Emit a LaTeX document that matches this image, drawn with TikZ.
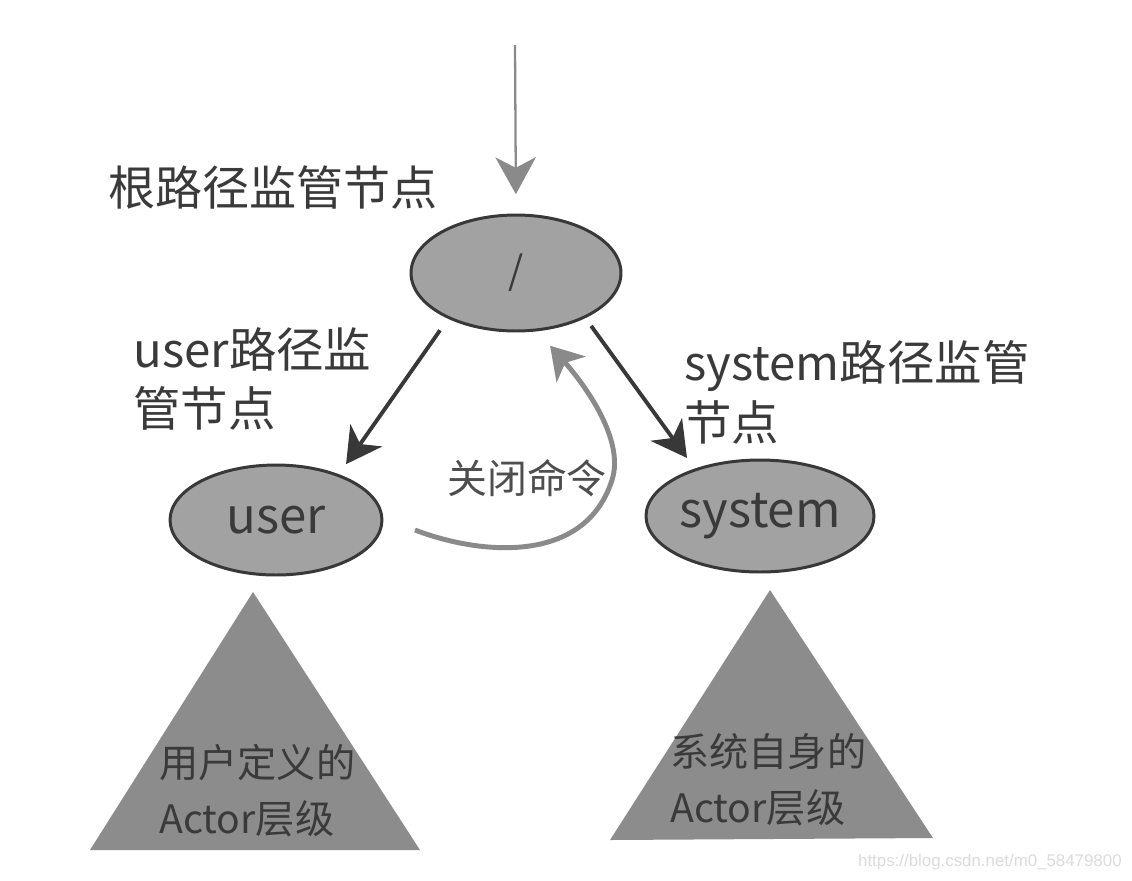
\documentclass[tikz,border=0pt]{standalone}
\usepackage{fontspec}
\usepackage{xcolor}
\usepackage{tikz}
\usetikzlibrary{shapes.geometric, arrows.meta}
\newfontfamily\cjk{Noto Sans CJK SC}
\newfontfamily\marksans{Liberation Sans}
\definecolor{nodegray}{HTML}{A2A2A2}
\definecolor{tiergray}{HTML}{8C8C8C}
\definecolor{edgedark}{HTML}{383838}
\definecolor{linegray}{HTML}{8A8A8A}
\definecolor{textdark}{HTML}{3A3A3A}

\begin{document}
\begin{tikzpicture}[x=0.02cm, y=-0.02cm, every node/.style={font=\cjk, text=textdark},
    actor/.style={draw=edgedark, line width=1.7pt, fill=nodegray, ellipse, inner sep=0pt, font={\cjk\fontsize{28}{30}\selectfont}},
    pathtext/.style={align=left, inner sep=0pt, anchor=west, font={\cjk\fontsize{27}{34}\selectfont}},
    tiertext/.style={align=left, inner sep=0pt, anchor=west, font={\cjk\fontsize{22.3}{32}\selectfont}},
    link/.style={draw=edgedark, line width=2.2pt, -{Stealth[length=20pt, width=22pt, inset=6pt]}}]
    \useasboundingbox[fill=white] (0,0) rectangle (1132,880);

    % Root supervisor
    \coordinate (entry) at (515,45);
    \node[actor, minimum width=4.2cm, minimum height=2.32cm, font={\cjk\fontsize{22}{24}\selectfont}] (root) at (516,273) {/};
    \node[pathtext, font={\cjk\fontsize{26.8}{30}\selectfont}] (root-label) at (108,188) {根路径监管节点};
    \draw[draw=linegray, line width=1.3pt, -{Stealth[length=21pt, width=23pt, inset=6pt]}, shorten >=11pt] (entry) -- (root.north);

    % User path
    \node[actor, minimum width=4.24cm, minimum height=2.2cm] (user) at (276,520) {user};
    \node[pathtext] (user-label) at (133,379) {user路径监\\管节点};
    \draw[link, shorten <=8pt, shorten >=7pt] (root.-146) -- (user.36);

    % System path
    \node[actor, minimum width=4.22cm, minimum height=2.24cm] (system) at (760,516) {system};
    \node[pathtext] (system-label) at (684,392) {system路径监管\\节点};
    \draw[link, shorten <=5.5pt, shorten >=7.5pt] (root.-33) -- (system.144);

    % Stop command back to root
    \coordinate (cmd-start) at (415,530);
    \node[font={\cjk\fontsize{22.7}{26}\selectfont}, text=textdark!90] (cmd-label) at (527,478) {关闭命令};
    \draw[draw=linegray, line width=2.8pt, -{Stealth[length=18pt, width=22pt, inset=5pt]}, shorten >=11pt]
        (cmd-start) .. controls (480,555) and (585,565) .. (612,480) .. controls (625,440) and (585,385) .. (root.-70);

    % Actor hierarchies
    \fill[tiergray] (253,592) -- (90,850) -- (420,850) -- cycle;
    \node[tiertext] (user-tier) at (159,791) {用户定义的\\Actor层级};
    \fill[tiergray] (770,590) -- (610,840) -- (933,838) -- cycle;
    \node[tiertext] (system-tier) at (670,780) {系统自身的\\Actor层级};

    \node[anchor=east, inner sep=0pt, text=black!14, font={\marksans\fontsize{9.6}{11}\selectfont}] (mark) at (1122,862) {https://blog.csdn.net/m0\_58479800};
\end{tikzpicture}
\end{document}
